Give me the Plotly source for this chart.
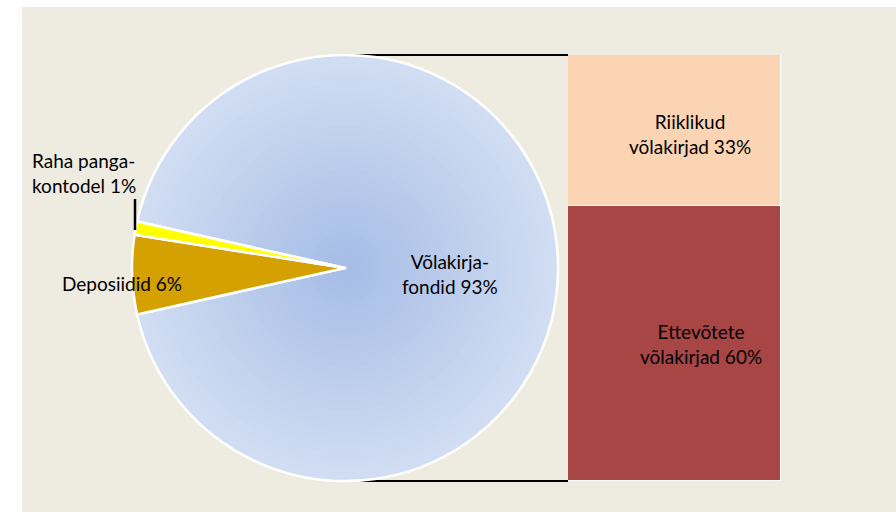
import plotly.graph_objects as go

# ---- data ----
pie_labels = ["Võlakirjafondid", "Deposiidid", "Raha pangakontodel"]
pie_values = [93, 6, 1]
pie_colors = ["#C4D3EE", "#D4A100", "#FFFF00"]
pie_text = ["Võlakirja-<br>fondid 93%", "Deposiidid 6%", "Raha panga-<br>kontodel 1%"]

bar_labels = ["Ettevõtete võlakirjad", "Riiklikud võlakirjad"]
bar_values = [60, 33]
bar_colors = ["#A84646", "#FBD4B4"]
bar_text = ["Ettevõtete<br>võlakirjad 60%", "Riiklikud<br>võlakirjad 33%"]

W, H = 896, 512
BG = "#EEEBE0"
FONT = "Lato"
FS = 19

# pie geometry (pixels)
cx, cy, r = 345, 268, 213
px = lambda v: v / W
py = lambda v: 1 - v / H

fig = go.Figure()

blue_frac = pie_values[0] / sum(pie_values)
rotation = 90 - blue_frac * 180

# radial gradient on the big slice via concentric pies
N = 30
c_edge = (0xD1, 0xDD, 0xF2)
c_mid = (0xA6, 0xBD, 0xE6)
for i in range(N):
    f = 1 - i / N
    t = i / (N - 1)
    col = "rgb(%d,%d,%d)" % tuple(round(a + (b - a) * t) for a, b in zip(c_edge, c_mid))
    rr = r * f
    fig.add_trace(go.Pie(
        labels=pie_labels, values=pie_values, sort=False, direction="clockwise",
        rotation=rotation,
        marker=dict(colors=[col, "rgba(0,0,0,0)", "rgba(0,0,0,0)"], line=dict(width=0)),
        textinfo="none", hoverinfo="skip", showlegend=False,
        domain=dict(x=[px(cx - rr), px(cx + rr)], y=[py(cy + rr), py(cy - rr)]),
    ))

# main pie with outlines and small slices
fig.add_trace(go.Pie(
    labels=pie_labels, values=pie_values, sort=False, direction="clockwise",
    rotation=rotation,
    marker=dict(colors=["rgba(0,0,0,0)", pie_colors[1], pie_colors[2]],
                line=dict(color="white", width=2.5)),
    textinfo="none", showlegend=False,
    domain=dict(x=[px(cx - r), px(cx + r)], y=[py(cy + r), py(cy - r)]),
))

# bar of pie
for lab, val, col in zip(bar_labels, bar_values, bar_colors):
    fig.add_trace(go.Bar(
        x=[0], y=[val], name=lab, width=1,
        marker=dict(color=col, line=dict(color="white", width=1.5)),
        showlegend=False, xaxis="x", yaxis="y",
    ))

bx0, bx1 = 568, 781
fig.update_layout(
    width=W, height=H,
    margin=dict(l=0, r=0, t=0, b=0),
    paper_bgcolor="white", plot_bgcolor="rgba(0,0,0,0)",
    barmode="stack", bargap=0,
    xaxis=dict(domain=[px(bx0), px(bx1)], range=[-0.5, 0.5], visible=False, fixedrange=True),
    yaxis=dict(domain=[py(cy + r), py(cy - r)], range=[0, sum(bar_values)], visible=False, fixedrange=True),
    font=dict(family=FONT, size=FS, color="black"),
)

shapes = [
    dict(type="rect", xref="paper", yref="paper", x0=px(22), x1=1, y0=0, y1=py(7),
         fillcolor=BG, line=dict(width=0), layer="below"),
    # connector lines pie -> bar
    dict(type="line", xref="paper", yref="paper", x0=px(cx), x1=px(bx0),
         y0=py(cy - r), y1=py(cy - r), line=dict(color="black", width=2), layer="below"),
    dict(type="line", xref="paper", yref="paper", x0=px(cx), x1=px(bx0),
         y0=py(cy + r), y1=py(cy + r), line=dict(color="black", width=2), layer="below"),
    # leader line for small slice label
    dict(type="line", xref="paper", yref="paper", x0=px(135), x1=px(135),
         y0=py(199), y1=py(230), line=dict(color="black", width=2.5)),
]
fig.update_layout(shapes=shapes)

ann = [
    (pie_text[0], 450, 274, "center"),
    (pie_text[1], 60, 283, "left"),
    (pie_text[2], 30, 173, "left"),
    (bar_text[0], 701, 344, "center"),
    (bar_text[1], 690, 134, "center"),
]
for txt, x, y, al in ann:
    fig.add_annotation(
        text=txt, xref="paper", yref="paper", x=px(x), y=py(y),
        xanchor="left" if al == "left" else "center", yanchor="middle",
        align=al, showarrow=False, font=dict(family=FONT, size=FS, color="black"),
    )

fig.write_html("out.html", config={"displayModeBar": False},
               post_script="document.body.style.margin='0';document.body.style.padding='0';")
